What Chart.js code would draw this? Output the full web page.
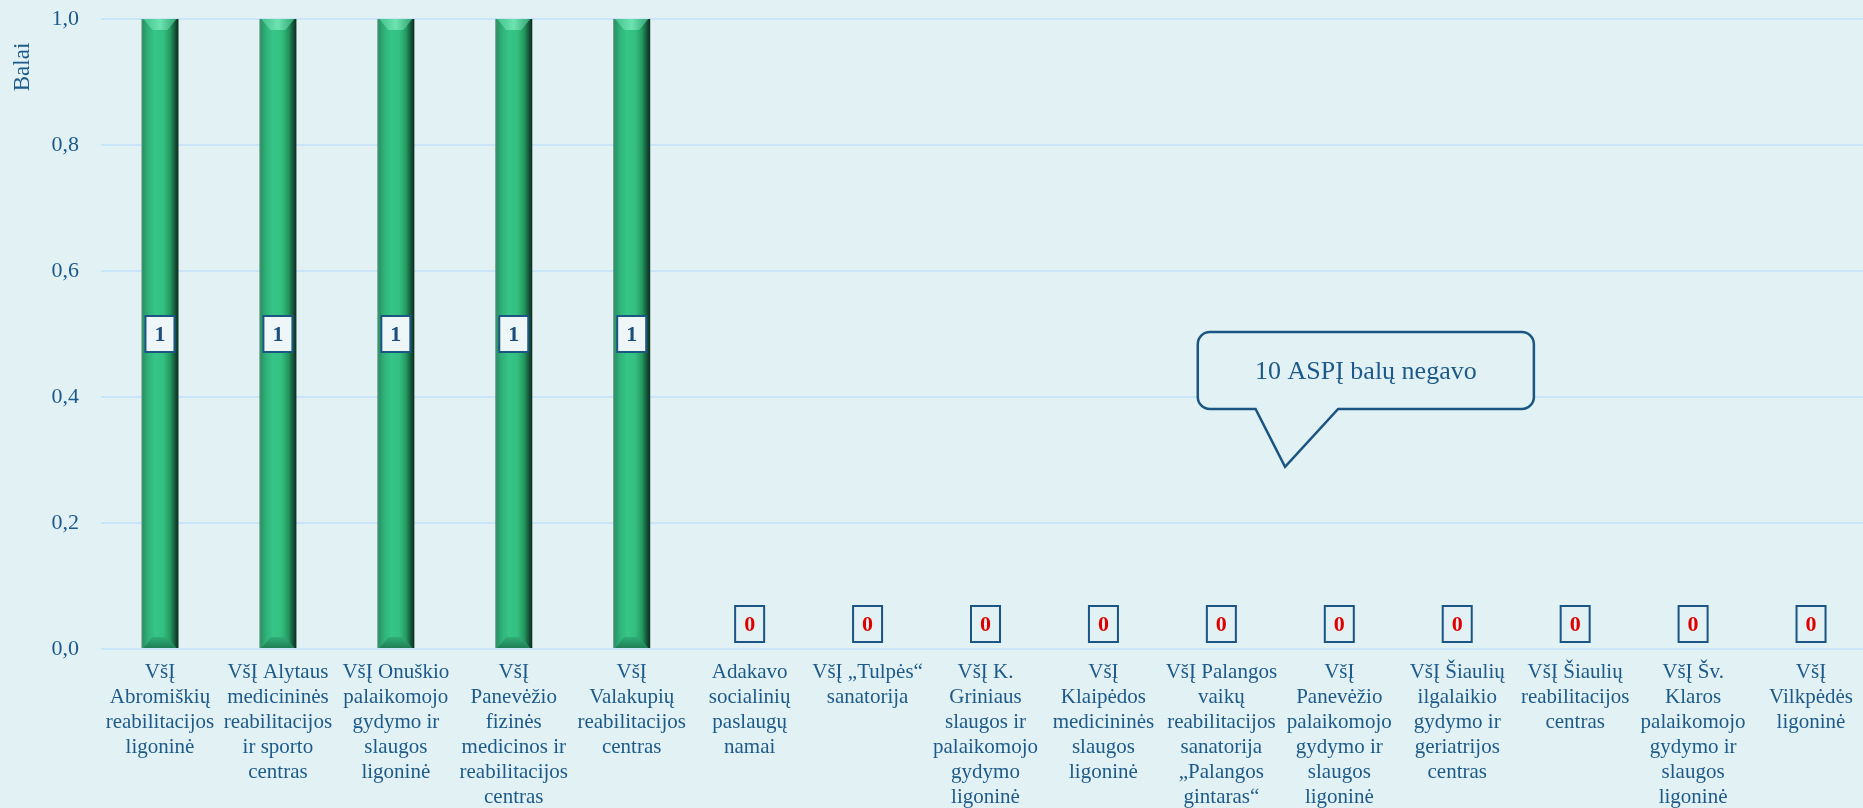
<!DOCTYPE html>
<html lang="lt">
<head>
<meta charset="utf-8">
<title>Balai</title>
<script src="https://cdn.jsdelivr.net/npm/chart.js@4.4.1/dist/chart.umd.min.js"></script>
<style>
  html, body { margin: 0; padding: 0; background: #e2f1f3; overflow: hidden; }
  #wrap { position: relative; width: 1870px; height: 808px; }
</style>
</head>
<body>
<div id="wrap"><canvas id="scoreChart"></canvas></div>
<script>
// Chart data
const categories = [
    ['VšĮ', 'Abromiškių', 'reabilitacijos', 'ligoninė'],
    ['VšĮ Alytaus', 'medicininės', 'reabilitacijos', 'ir sporto', 'centras'],
    ['VšĮ Onuškio', 'palaikomojo', 'gydymo ir', 'slaugos', 'ligoninė'],
    ['VšĮ', 'Panevėžio', 'fizinės', 'medicinos ir', 'reabilitacijos', 'centras'],
    ['VšĮ', 'Valakupių', 'reabilitacijos', 'centras'],
    ['Adakavo', 'socialinių', 'paslaugų', 'namai'],
    ['VšĮ „Tulpės“', 'sanatorija'],
    ['VšĮ K.', 'Griniaus', 'slaugos ir', 'palaikomojo', 'gydymo', 'ligoninė'],
    ['VšĮ', 'Klaipėdos', 'medicininės', 'slaugos', 'ligoninė'],
    ['VšĮ Palangos', 'vaikų', 'reabilitacijos', 'sanatorija', '„Palangos', 'gintaras“'],
    ['VšĮ', 'Panevėžio', 'palaikomojo', 'gydymo ir', 'slaugos', 'ligoninė'],
    ['VšĮ Šiaulių', 'ilgalaikio', 'gydymo ir', 'geriatrijos', 'centras'],
    ['VšĮ Šiaulių', 'reabilitacijos', 'centras'],
    ['VšĮ Šv.', 'Klaros', 'palaikomojo', 'gydymo ir', 'slaugos', 'ligoninė'],
    ['VšĮ', 'Vilkpėdės', 'ligoninė']
];
const scores = [1, 1, 1, 1, 1, 0, 0, 0, 0, 0, 0, 0, 0, 0, 0];
const yTicks = [0, 0.2, 0.4, 0.6, 0.8, 1.0];
const axisTitle = 'Balai';
const noteText = '10 ASPĮ balų negavo';

// Callout placement in axis units (category index / value)
const notePlace = { left: 8.80, right: 11.65, top: 0.503, bottom: 0.381, baseL: 9.29, baseR: 9.99, tipX: 9.54, tipY: 0.289 };

const BAR_SHARE = 0.314;
const SERIF = '"Liberation Serif", "Times New Roman", serif';
const TEXT_BLUE = '#1d5a8a';
const LINE_BLUE = '#1a5584';
const BG = '#e2f1f3';

function barGradient(context) {
    const chart = context.chart;
    const xScale = chart.scales && chart.scales.x;
    if (!chart.chartArea || !xScale) return '#33c284';
    const cx = xScale.getPixelForValue(context.dataIndex);
    const half = (xScale.width / categories.length) * BAR_SHARE / 2;
    const g = chart.ctx.createLinearGradient(cx - half, 0, cx + half, 0);
    g.addColorStop(0.00, '#5f907c');
    g.addColorStop(0.05, '#2a9567');
    g.addColorStop(0.18, '#30b279');
    g.addColorStop(0.38, '#36c587');
    g.addColorStop(0.60, '#33bf80');
    g.addColorStop(0.78, '#24985f');
    g.addColorStop(0.90, '#155a3b');
    g.addColorStop(1.00, '#0b2a1c');
    return g;
}

const backgroundPlugin = {
    id: 'background',
    beforeDraw(chart) {
        const ctx = chart.ctx;
        ctx.save();
        ctx.fillStyle = BG;
        ctx.fillRect(0, 0, chart.width, chart.height);
        ctx.restore();
    }
};

const bevelPlugin = {
    id: 'bevel',
    afterDatasetsDraw(chart) {
        const ctx = chart.ctx;
        chart.getDatasetMeta(0).data.forEach((bar, i) => {
            if (!scores[i]) return;
            const x0 = bar.x - bar.width / 2;
            const x1 = bar.x + bar.width / 2;
            const top = bar.y;
            const bottom = bar.base;
            const b = 11;
            ctx.save();
            let g = ctx.createLinearGradient(x0, 0, x1, 0);
            g.addColorStop(0, '#3fbf88');
            g.addColorStop(0.5, '#6de4b0');
            g.addColorStop(1, '#2a9c6a');
            ctx.fillStyle = g;
            ctx.beginPath();
            ctx.moveTo(x0 + 2, top);
            ctx.lineTo(x1 - 2, top);
            ctx.lineTo(x1 - b, top + b);
            ctx.lineTo(x0 + b, top + b);
            ctx.closePath();
            ctx.fill();

            g = ctx.createLinearGradient(0, bottom - b, 0, bottom);
            g.addColorStop(0, '#2fae76');
            g.addColorStop(1, '#1f7f55');
            ctx.fillStyle = g;
            ctx.beginPath();
            ctx.moveTo(x0 + 2, bottom);
            ctx.lineTo(x1 - 2, bottom);
            ctx.lineTo(x1 - b, bottom - b);
            ctx.lineTo(x0 + b, bottom - b);
            ctx.closePath();
            ctx.fill();
            ctx.restore();
        });
    }
};

const valueBoxPlugin = {
    id: 'valueBoxes',
    afterDatasetsDraw(chart) {
        const ctx = chart.ctx;
        const y = chart.scales.y;
        const w = 29, h = 36;
        chart.getDatasetMeta(0).data.forEach((bar, i) => {
            const v = scores[i];
            const cy = v > 0 ? y.getPixelForValue(v / 2) : y.getPixelForValue(0) - 7 - h / 2;
            ctx.save();
            ctx.fillStyle = v > 0 ? '#eef6f8' : BG;
            ctx.fillRect(bar.x - w / 2, cy - h / 2, w, h);
            ctx.strokeStyle = LINE_BLUE;
            ctx.lineWidth = 2;
            ctx.strokeRect(bar.x - w / 2, cy - h / 2, w, h);
            ctx.font = 'bold 22px ' + SERIF;
            ctx.textAlign = 'center';
            ctx.textBaseline = 'middle';
            ctx.fillStyle = v > 0 ? '#1d4f7c' : '#e00000';
            ctx.fillText(String(v), bar.x, cy + 1);
            ctx.restore();
        });
    }
};

const calloutPlugin = {
    id: 'callout',
    afterDraw(chart) {
        const ctx = chart.ctx;
        const sx = chart.scales.x, sy = chart.scales.y;
        const L = sx.getPixelForValue(notePlace.left);
        const R = sx.getPixelForValue(notePlace.right);
        const T = sy.getPixelForValue(notePlace.top);
        const B = sy.getPixelForValue(notePlace.bottom);
        const bl = sx.getPixelForValue(notePlace.baseL);
        const br = sx.getPixelForValue(notePlace.baseR);
        const tx = sx.getPixelForValue(notePlace.tipX);
        const ty = sy.getPixelForValue(notePlace.tipY);
        const r = 12;
        ctx.save();
        ctx.beginPath();
        ctx.moveTo(L + r, T);
        ctx.lineTo(R - r, T);
        ctx.arcTo(R, T, R, T + r, r);
        ctx.lineTo(R, B - r);
        ctx.arcTo(R, B, R - r, B, r);
        ctx.lineTo(br, B);
        ctx.lineTo(tx, ty);
        ctx.lineTo(bl, B);
        ctx.lineTo(L + r, B);
        ctx.arcTo(L, B, L, B - r, r);
        ctx.lineTo(L, T + r);
        ctx.arcTo(L, T, L + r, T, r);
        ctx.closePath();
        ctx.fillStyle = BG;
        ctx.fill();
        ctx.strokeStyle = LINE_BLUE;
        ctx.lineWidth = 2.5;
        ctx.stroke();
        ctx.font = '26px ' + SERIF;
        ctx.fillStyle = TEXT_BLUE;
        ctx.textAlign = 'center';
        ctx.textBaseline = 'middle';
        ctx.fillText(noteText, (L + R) / 2, (T + B) / 2 + 2);
        ctx.restore();
    }
};

const yTitlePlugin = {
    id: 'yTitle',
    afterDraw(chart) {
        const ctx = chart.ctx;
        ctx.save();
        ctx.translate(23, chart.chartArea.top + 48);
        ctx.rotate(-Math.PI / 2);
        ctx.font = '23px ' + SERIF;
        ctx.fillStyle = TEXT_BLUE;
        ctx.textAlign = 'center';
        ctx.textBaseline = 'middle';
        ctx.fillText(axisTitle, 0, 0);
        ctx.restore();
    }
};

function initializeScoreChart() {
    const canvas = document.getElementById('scoreChart');
    if (!canvas) {
        console.error('Chart canvas not found');
        return;
    }
    new Chart(canvas.getContext('2d'), {
        type: 'bar',
        data: {
            labels: categories,
            datasets: [{
                label: axisTitle,
                data: scores,
                backgroundColor: barGradient,
                borderWidth: 0,
                categoryPercentage: 1,
                barPercentage: BAR_SHARE
            }]
        },
        options: {
            responsive: true,
            maintainAspectRatio: false,
            animation: false,
            layout: { padding: { top: 19, right: 0, bottom: 0, left: 0 } },
            plugins: {
                legend: { display: false },
                tooltip: { enabled: false }
            },
            scales: {
                x: {
                    grid: { display: false, drawTicks: false },
                    border: { display: false },
                    ticks: {
                        autoSkip: false,
                        maxRotation: 0,
                        minRotation: 0,
                        padding: 11,
                        color: TEXT_BLUE,
                        font: { family: SERIF, size: 21, lineHeight: '25px' }
                    },
                    afterFit(scale) {
                        scale.height = 159;
                        scale.paddingLeft = 0;
                        scale.paddingRight = 0;
                    }
                },
                y: {
                    min: 0,
                    max: 1,
                    grid: { color: '#c9e5f7', lineWidth: 2, drawTicks: false },
                    border: { display: false },
                    afterBuildTicks(scale) {
                        scale.ticks = yTicks.map(v => ({ value: v }));
                    },
                    ticks: {
                        padding: 22,
                        color: TEXT_BLUE,
                        font: { family: SERIF, size: 22 },
                        callback: value => value.toFixed(1).replace('.', ',')
                    },
                    afterFit(scale) {
                        scale.width = 101;
                        scale.paddingTop = 0;
                        scale.paddingBottom = 0;
                    }
                }
            }
        },
        plugins: [backgroundPlugin, bevelPlugin, valueBoxPlugin, calloutPlugin, yTitlePlugin]
    });
}

initializeScoreChart();
</script>
</body>
</html>
